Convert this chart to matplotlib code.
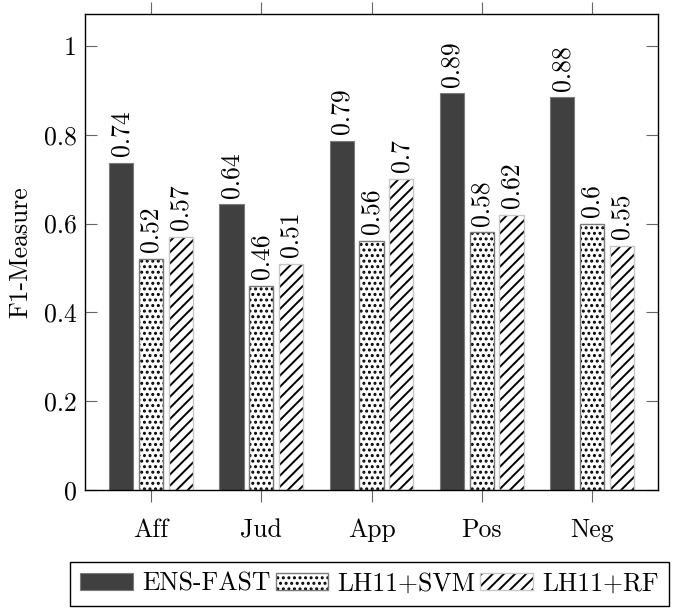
import numpy as np
import matplotlib
matplotlib.use("Agg")
import matplotlib.pyplot as plt

plt.rcParams['font.family'] = ['cmr10', 'DejaVu Serif']
plt.rcParams['axes.formatter.use_mathtext'] = True
plt.rcParams['hatch.linewidth'] = 1.4

categories = ['Aff', 'Jud', 'App', 'Pos', 'Neg']
ens_fast = [0.737, 0.643, 0.787, 0.893, 0.884]
lh11_svm = [0.52, 0.46, 0.56, 0.58, 0.60]
lh11_rf = [0.57, 0.51, 0.70, 0.62, 0.55]
ens_lbl = ['0.74', '0.64', '0.79', '0.89', '0.88']
svm_lbl = ['0.52', '0.46', '0.56', '0.58', '0.6']
rf_lbl = ['0.57', '0.51', '0.7', '0.62', '0.55']
yticks = [0, 0.2, 0.4, 0.6, 0.8, 1]
ytick_lbl = ['0', '0.2', '0.4', '0.6', '0.8', '1']

fs = 18.5
fig = plt.figure(figsize=(6.85, 6.08), dpi=100)
ax = fig.add_axes([0.1241, 0.1941, 0.8365, 0.7829])

x = np.arange(len(categories))
w = 0.22
off = 0.27

b1 = ax.bar(x - off, ens_fast, w, color='#404040', edgecolor='#7a7a7a', linewidth=0.8)

# hatch drawn in black, outline drawn in gray on top
b2h = ax.bar(x, lh11_svm, w, color='white', edgecolor='black', hatch='...', linewidth=0)
b2e = ax.bar(x, lh11_svm, w, fill=False, edgecolor='#7a7a7a', linewidth=1.0)
b3h = ax.bar(x + off, lh11_rf, w, color='white', edgecolor='black', hatch='///', linewidth=0)
b3e = ax.bar(x + off, lh11_rf, w, fill=False, edgecolor='#c8c8c8', linewidth=1.0)

for xs, vals, lbls in [(x - off, ens_fast, ens_lbl), (x, lh11_svm, svm_lbl), (x + off, lh11_rf, rf_lbl)]:
    for xi, v, s in zip(xs, vals, lbls):
        ax.annotate(s, (xi, v), xytext=(0, 5), textcoords='offset points',
                    rotation=90, ha='center', va='bottom', fontsize=fs)

ax.set_xlim(-0.6, 4.6)
ax.set_ylim(0, 1.072)
ax.set_xticks(x)
ax.set_xticklabels(categories, fontsize=fs)
ax.set_yticks(yticks)
ax.set_yticklabels(ytick_lbl, fontsize=fs)
ax.tick_params(axis='y', direction='in', left=True, right=True, length=8.5, width=0.8, color='#666666', pad=6)
ax.tick_params(axis='x', direction='out', bottom=True, top=True, length=8.5, width=0.8, color='#666666', pad=12)
ax.set_ylabel('F1-Measure', fontsize=fs, labelpad=8)
for sp in ax.spines.values():
    sp.set_linewidth(1.0)

fig.legend([b1, (b2h, b2e), (b3h, b3e)], ['ENS-FAST', 'LH11+SVM', 'LH11+RF'],
           loc='center', bbox_to_anchor=(369.5 / 685, 1 - 584 / 608), ncol=3,
           fontsize=fs, frameon=True, fancybox=False, edgecolor='black',
           handlelength=2.05, handleheight=0.65, handletextpad=0.35, columnspacing=0.2,
           borderpad=0.4, borderaxespad=0, framealpha=1)

fig.savefig('out.png', dpi=100)
